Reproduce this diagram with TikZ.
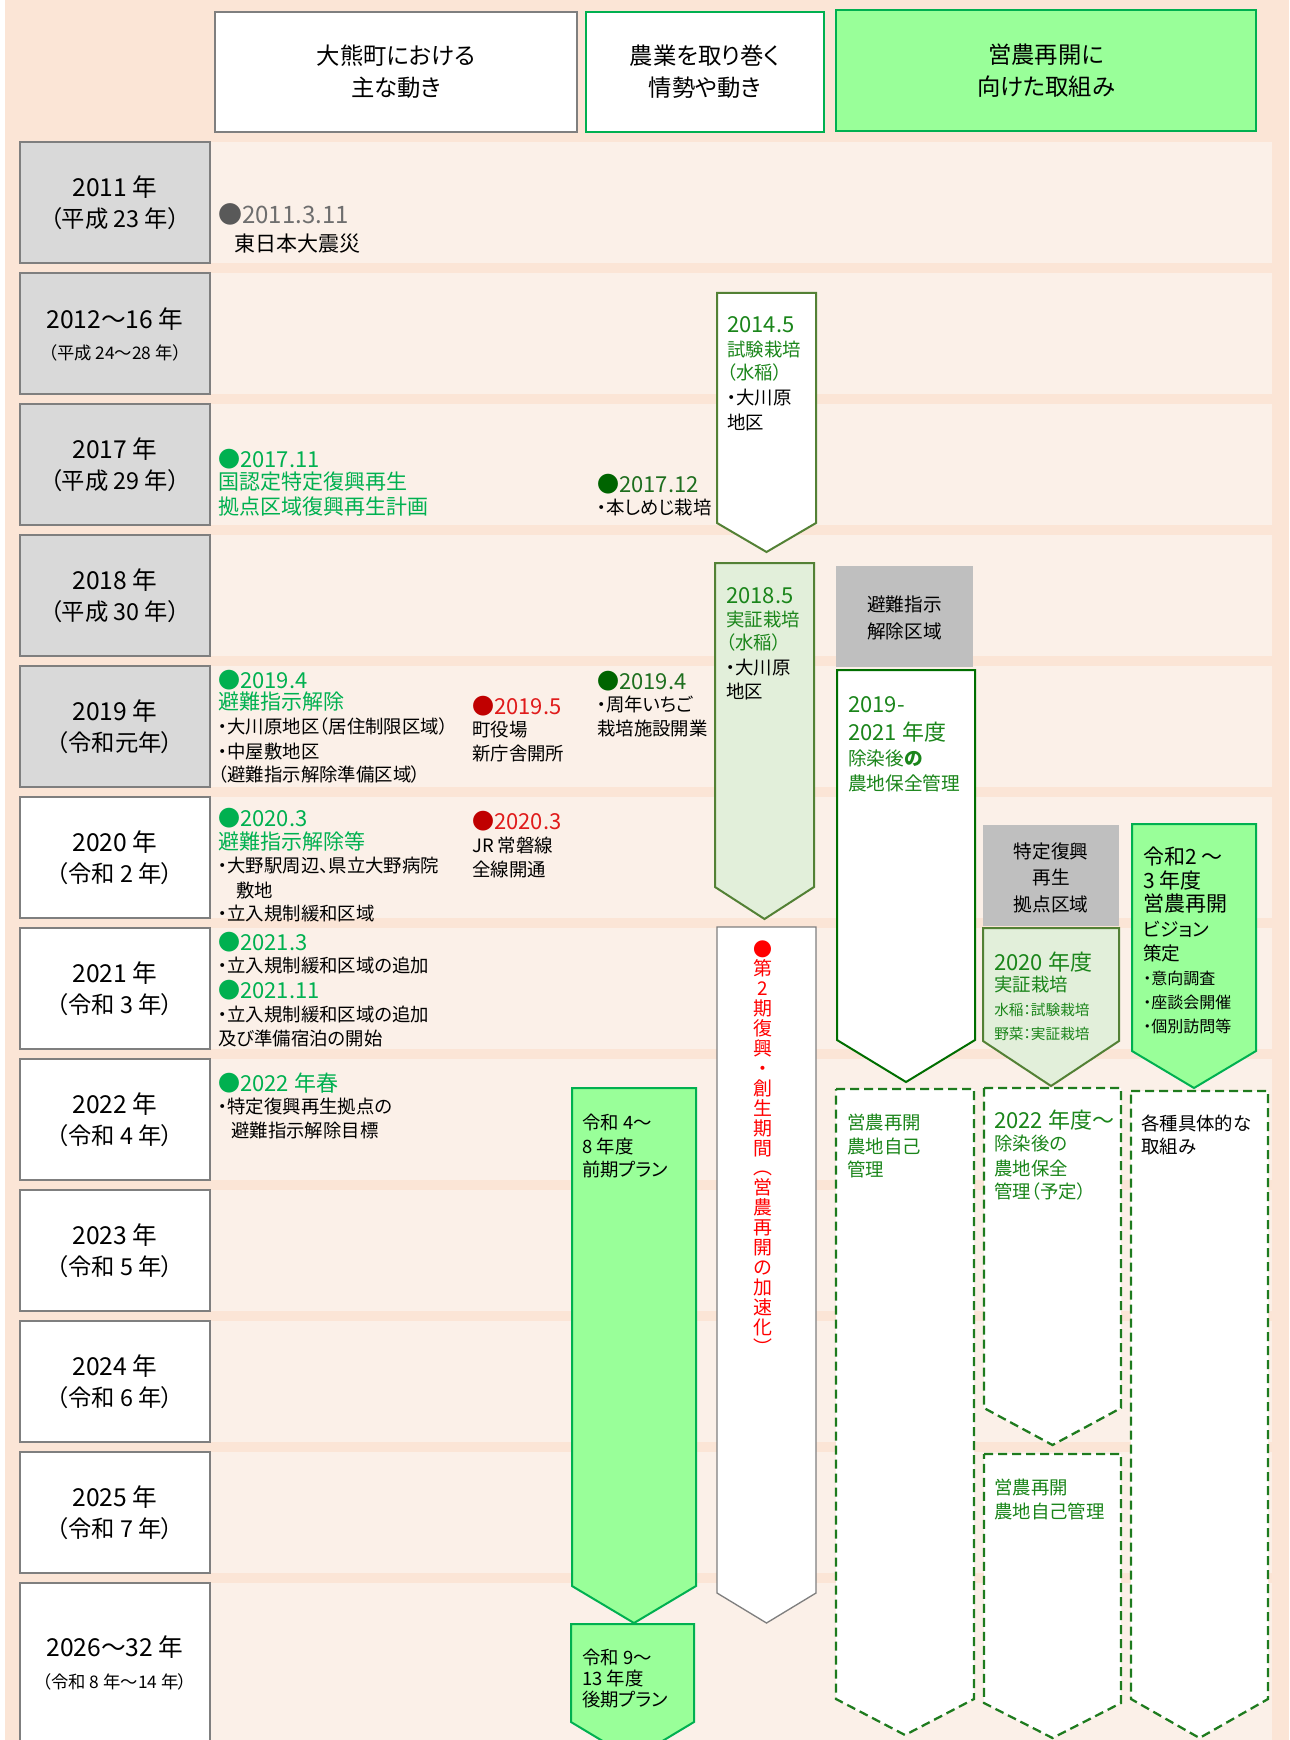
\documentclass[tikz,border=0pt]{standalone}
\usepackage{fontspec}
\setmainfont{Noto Sans CJK JP}[RawFeature={+palt}]
\definecolor{peach}{HTML}{FBE5D6}
\definecolor{band}{HTML}{FBF0E8}
\definecolor{ygray}{HTML}{D9D9D9}
\definecolor{bord}{HTML}{7F7F7F}
\definecolor{gbox}{HTML}{BFBFBF}
\definecolor{lime}{HTML}{99FF99}
\definecolor{limeb}{HTML}{00B050}
\definecolor{pale}{HTML}{E2EFDA}
\definecolor{olive}{HTML}{538135}
\definecolor{dkg}{HTML}{006E00}
\definecolor{gtext}{HTML}{1A851A}
\definecolor{hgreen}{HTML}{00B050}
\definecolor{dg}{HTML}{006400}
\definecolor{dgtext}{HTML}{1E6E1E}
\definecolor{dred}{HTML}{C00000}
\definecolor{rtext}{HTML}{E01B1B}
\definecolor{vred}{HTML}{FF0000}
\definecolor{gdot}{HTML}{595959}
\definecolor{gdate}{HTML}{6E6E6E}
\definecolor{dashg}{HTML}{1E7B1E}
\newcommand\setfs[1]{\fontsize{#1pt}{#1pt}\selectfont}
\newcommand\arrowshape[6]{\draw[#1] (#2,#4) -- (#3,#4) -- (#3,#5) -- ({(#2+#3)/2},#6) -- (#2,#5) -- cycle;}
\tikzset{
  lbl/.style={inner sep=0pt, anchor=west, text=black, font=\setfs{13.8}},
  ctr/.style={inner sep=0pt, text=black},
  hdr/.style={ctr, font=\setfs{17.5}},
  yrmain/.style={ctr, font=\setfs{18.5}},
  yrsub/.style={ctr, font=\setfs{17.5}},
  yrsmall/.style={ctr, font=\setfs{13}},
  dt/.style={lbl, font=\setfs{16.5}},
  gh/.style={lbl, font=\setfs{15.75}, text=hgreen},
  sg/.style={lbl, text=gtext},
  sgbig/.style={lbl, font=\setfs{16.5}, text=gtext},
  ybox/.style={draw=bord, line width=1.5pt},
  whitearrow/.style={draw=olive, line width=1.5pt, fill=white},
  palearrow/.style={draw=olive, line width=1.5pt, fill=pale},
  limearrow/.style={draw=limeb, line width=1.5pt, fill=lime},
  dkarrow/.style={draw=dkg, line width=1.5pt, fill=white},
  grayarrow/.style={draw=bord, line width=1pt, fill=white},
  dasharrow/.style={draw=dashg, line width=1.7pt, dash pattern=on 6.75pt off 3.75pt, fill=white},
  vtxt/.style={ctr, text=vred, font=\setfs{14.2}, text height=12.3pt, text depth=1.7pt},
}
\begin{document}
\begin{tikzpicture}[x=0.75pt,y=-0.75pt]
\useasboundingbox (0,0) rectangle (1289,1740);
\fill[peach] (0,0) rectangle (1289,1740);
\fill[white] (0,0) rectangle (5,1740);
% row bands
\foreach \i in {0,...,10} \fill[band] (20,{142+\i*131}) rectangle (1272,{263+\i*131});
\fill[band] (20,1583) rectangle (1272,1740);
% year boxes
\foreach \i in {0,...,4} \draw[ybox, fill=ygray] (20,{142+\i*131}) rectangle (210,{263+\i*131});
\foreach \i in {5,...,10} \draw[ybox, fill=white] (20,{142+\i*131}) rectangle (210,{263+\i*131});
\draw[ybox, fill=white] (20,1583) rectangle (210,1760);
% headers
\draw[draw=bord, line width=1.5pt, fill=white] (215,12) rectangle (577,132);
\draw[draw=limeb, line width=1.5pt, fill=white] (586,12) rectangle (824,132);
\draw[draw=limeb, line width=1.5pt, fill=lime] (836,10) rectangle (1256,131);
\node[hdr] (h1a) at (396,56) {大熊町における};
\node[hdr] (h1b) at (396,88) {主な動き};
\node[hdr] (h2a) at (705,56) {農業を取り巻く};
\node[hdr] (h2b) at (705,88) {情勢や動き};
\node[hdr] (h3a) at (1046,55) {営農再開に};
\node[hdr] (h3b) at (1046,87) {向けた取組み};
% year labels
\node[yrmain] (y1) at (115,187) {2011 年};
\node[yrsub] (s1) at (115,219) {（平成 23 年）};
\node[yrmain] (y2) at (115,319) {2012～16 年};
\node[yrsmall] (s2) at (115,353) {（平成 24～28 年）};
\node[yrmain] (y3) at (115,449) {2017 年};
\node[yrsub] (s3) at (115,481) {（平成 29 年）};
\node[yrmain] (y4) at (115,580) {2018 年};
\node[yrsub] (s4) at (115,612) {（平成 30 年）};
\node[yrmain] (y5) at (115,711) {2019 年};
\node[yrsub] (s5) at (115,743) {（令和元年）};
\node[yrmain] (y6) at (115,842) {2020 年};
\node[yrsub] (s6) at (115,874) {（令和 2 年）};
\node[yrmain] (y7) at (115,973) {2021 年};
\node[yrsub] (s7) at (115,1005) {（令和 3 年）};
\node[yrmain] (y8) at (115,1104) {2022 年};
\node[yrsub] (s8) at (115,1136) {（令和 4 年）};
\node[yrmain] (y9) at (115,1235) {2023 年};
\node[yrsub] (s9) at (115,1267) {（令和 5 年）};
\node[yrmain] (y10) at (115,1366) {2024 年};
\node[yrsub] (s10) at (115,1398) {（令和 6 年）};
\node[yrmain] (y11) at (115,1497) {2025 年};
\node[yrsub] (s11) at (115,1529) {（令和 7 年）};
\node[yrmain] (y12) at (115,1647) {2026～32 年};
\node[yrsmall] (s12) at (115,1682) {（令和 8 年～14 年）};
% column 1 texts
\node[lbl, font=\setfs{18}] (e1) at (218,214) {\textcolor{gdot}{●}\textcolor{gdate}{2011.3.11}};
\node[lbl, font=\setfs{15.75}] (e1b) at (234,244) {東日本大震災};
\node[gh, font=\setfs{16.5}] (e2) at (218,459) {●2017.11};
\node[gh] (e2b) at (218,482) {国認定特定復興再生};
\node[gh] (e2c) at (218,507) {拠点区域復興再生計画};
\node[dt, text=dgtext] (f1) at (597,484) {\textcolor{dg}{●}2017.12};
\node[lbl] (f1b) at (597,508) {・本しめじ栽培};
\node[gh, font=\setfs{16.5}] (e3) at (218,680) {●2019.4};
\node[gh] (e3b) at (218,702) {避難指示解除};
\node[lbl] (e3c) at (218,727) {・大川原地区（居住制限区域）};
\node[lbl] (e3d) at (218,751) {・中屋敷地区};
\node[lbl] (e3e) at (218,775) {（避難指示解除準備区域）};
\node[dt, text=rtext] (r1) at (472,706) {\textcolor{dred}{●}2019.5};
\node[lbl] (r1b) at (472,730) {町役場};
\node[lbl] (r1c) at (472,754) {新庁舎開所};
\node[dt, text=dgtext] (f2) at (597,681) {\textcolor{dg}{●}2019.4};
\node[lbl] (f2b) at (597,705) {・周年いちご};
\node[lbl] (f2c) at (597,729) {栽培施設開業};
\node[gh, font=\setfs{16.5}] (e4) at (218,818) {●2020.3};
\node[gh] (e4b) at (218,841) {避難指示解除等};
\node[lbl] (e4c) at (218,866) {・大野駅周辺、県立大野病院};
\node[lbl] (e4d) at (236,890) {敷地};
\node[lbl] (e4e) at (218,914) {・立入規制緩和区域};
\node[dt, text=rtext] (r2) at (472,821) {\textcolor{dred}{●}2020.3};
\node[lbl] (r2b) at (472,845) {JR 常磐線};
\node[lbl] (r2c) at (472,869) {全線開通};
\node[gh, font=\setfs{16.5}] (e5) at (218,942) {●2021.3};
\node[lbl] (e5b) at (218,965) {・立入規制緩和区域の追加};
\node[gh, font=\setfs{16.5}] (e6) at (218,990) {●2021.11};
\node[lbl] (e6b) at (218,1014) {・立入規制緩和区域の追加};
\node[lbl] (e6c) at (218,1038) {及び準備宿泊の開始};
\node[gh, font=\setfs{16.5}] (e7) at (218,1083) {●2022 年春};
\node[lbl] (e7b) at (218,1107) {・特定復興再生拠点の};
\node[lbl] (e7c) at (231,1131) {避難指示解除目標};
% column 2 shapes
\arrowshape{whitearrow}{717}{816}{293}{523}{552}
\node[sgbig] (a1) at (727,325) {2014.5};
\node[sg] (a1b) at (727,350) {試験栽培};
\node[sg] (a1c) at (727,373) {（水稲）};
\node[lbl] (a1d) at (727,398) {・大川原};
\node[lbl] (a1e) at (727,423) {地区};
\arrowshape{palearrow}{715}{814}{563}{887}{919}
\node[sgbig] (a2) at (726,596) {2018.5};
\node[sg] (a2b) at (726,620) {実証栽培};
\node[sg] (a2c) at (726,643) {（水稲）};
\node[lbl] (a2d) at (726,668) {・大川原};
\node[lbl] (a2e) at (726,692) {地区};
\arrowshape{grayarrow}{717}{816}{927}{1593}{1623}
\foreach \c [count=\i from 0] in {●,第,2,期,復,興,・,創,生,期,間,︵,営,農,再,開,の,加,速,化,︶}
  \node[vtxt] (v\i) at (763,{949+\i*19.9}) {\c};
\arrowshape{limearrow}{572}{696}{1088}{1586}{1623}
\node[lbl] (p1) at (582,1122) {令和 4～};
\node[lbl] (p1b) at (582,1146) {8 年度};
\node[lbl] (p1c) at (582,1169) {前期プラン};
\arrowshape{limearrow}{571}{694}{1624}{1722}{1759}
\node[lbl] (p2) at (582,1657) {令和 9～};
\node[lbl] (p2b) at (582,1678) {13 年度};
\node[lbl] (p2c) at (582,1700) {後期プラン};
% column 3
\fill[gbox] (836,566) rectangle (973,667);
\node[ctr, font=\setfs{14}] (g1) at (904.5,604) {避難指示};
\node[ctr, font=\setfs{14}] (g1b) at (904.5,631) {解除区域};
\arrowshape{dkarrow}{837}{975}{670}{1040}{1082}
\node[sgbig] (b1) at (848,705) {2019-};
\node[sgbig] (b1b) at (848,732) {2021 年度};
\node[sg, font=\setfs{14}] (b1c) at (848,758) {除染後\textbf{の}};
\node[sg, font=\setfs{14}] (b1d) at (848,783) {農地保全管理};
\fill[gbox] (983,825) rectangle (1119,926);
\node[ctr, font=\setfs{14}] (g2) at (1051,851) {特定復興};
\node[ctr, font=\setfs{14}] (g2b) at (1051,877) {再生};
\node[ctr, font=\setfs{14}] (g2c) at (1051,904) {拠点区域};
\arrowshape{palearrow}{983}{1119}{928}{1041}{1086}
\node[sgbig] (c1) at (994,962) {2020 年度};
\node[sg] (c1b) at (994,985) {実証栽培};
\node[sg, font=\setfs{11}] (c1c) at (994,1010) {水稲：試験栽培};
\node[sg, font=\setfs{11}] (c1d) at (994,1034) {野菜：実証栽培};
\arrowshape{limearrow}{1132}{1256}{824}{1051}{1088}
\node[lbl, font=\setfs{15.75}] (k1) at (1143,857) {令和2 ～};
\node[lbl, font=\setfs{15.75}] (k1b) at (1143,880) {3 年度};
\node[lbl, font=\setfs{15.75}] (k1c) at (1143,904) {営農再開};
\node[lbl, font=\setfs{14}] (k1d) at (1143,929) {ビジョン};
\node[lbl, font=\setfs{14}] (k1e) at (1143,953) {策定};
\node[lbl, font=\setfs{12}] (k1f) at (1143,978) {・意向調査};
\node[lbl, font=\setfs{12}] (k1g) at (1143,1002) {・座談会開催};
\node[lbl, font=\setfs{12}] (k1h) at (1143,1026) {・個別訪問等};
% dashed arrows
\arrowshape{dasharrow}{836}{974}{1089}{1699}{1735}
\node[sg] (d1) at (847,1122) {営農再開};
\node[sg] (d1b) at (847,1146) {農地自己};
\node[sg] (d1c) at (847,1169) {管理};
\arrowshape{dasharrow}{984}{1121}{1088}{1408}{1445}
\node[sgbig] (d2) at (994,1120) {2022 年度～};
\node[sg] (d2b) at (994,1144) {除染後の};
\node[sg] (d2c) at (994,1168) {農地保全};
\node[sg] (d2d) at (994,1191) {管理（予定）};
\arrowshape{dasharrow}{984}{1121}{1454}{1703}{1738}
\node[sg] (d3) at (994,1487) {営農再開};
\node[sg] (d3b) at (994,1511) {農地自己管理};
\arrowshape{dasharrow}{1131}{1268}{1091}{1699}{1738}
\node[lbl] (d4) at (1141,1123) {各種具体的な};
\node[lbl] (d4b) at (1141,1147) {取組み};
\end{tikzpicture}
\end{document}
